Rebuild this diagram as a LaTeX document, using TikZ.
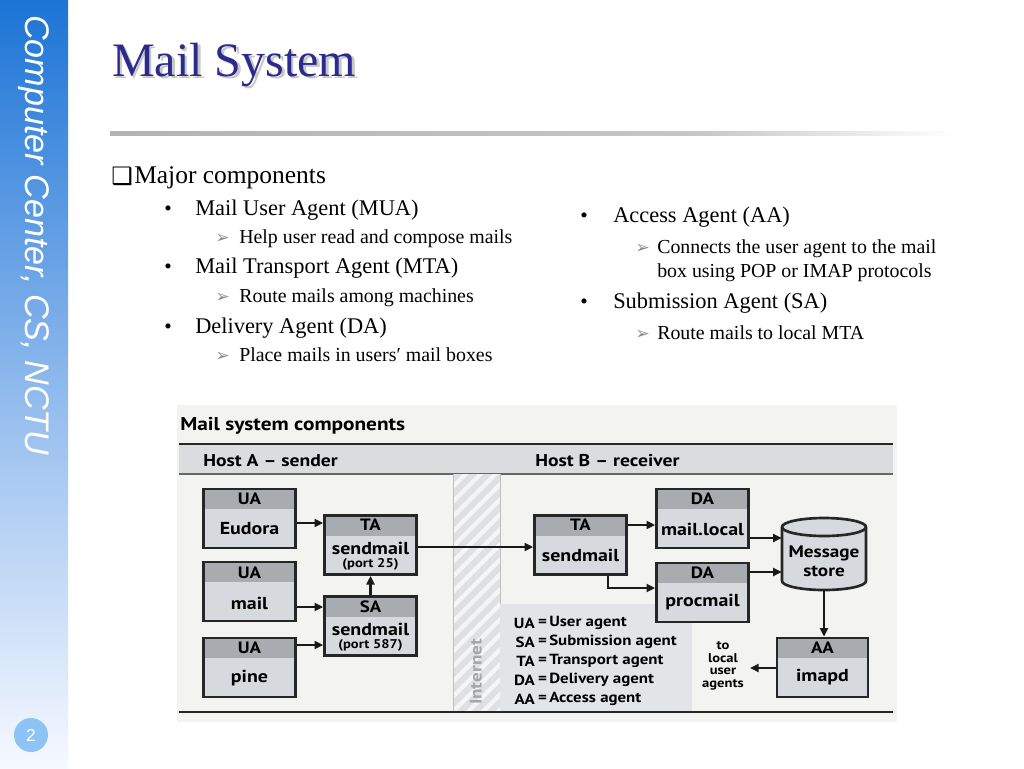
\documentclass[tikz,border=0pt]{standalone}
\usepackage{fontspec}
\setmainfont{Liberation Serif}
\newfontfamily\dfont[FakeStretch=1.15]{PT Sans}
\newfontfamily\sidef{Liberation Sans}
\newfontfamily\symf{DejaVu Sans}
\usetikzlibrary{arrows.meta}
\definecolor{titleblue}{RGB}{43,43,140}
\definecolor{sidetop}{RGB}{28,116,214}
\definecolor{sidemid}{RGB}{170,202,242}
\definecolor{sidebot}{RGB}{246,249,255}
\definecolor{pagecirc}{RGB}{142,196,245}
\definecolor{figbg}{RGB}{243,243,242}
\definecolor{bandgray}{RGB}{218,220,222}
\definecolor{boxbody}{RGB}{214,218,222}
\definecolor{boxhead}{RGB}{168,172,176}
\definecolor{legendbg}{RGB}{226,228,231}
\definecolor{stripe}{RGB}{222,224,226}
\definecolor{subarrow}{RGB}{140,140,140}
\newcommand{\fsz}[1]{\fontsize{#1}{#1}\selectfont}
\begin{document}
\begin{tikzpicture}[x=0.75pt,y=-0.75pt,
  agent/.style={draw=black!85, line width=2pt, fill=boxbody, minimum width=69pt, minimum height=44.25pt, inner sep=0pt,
    path picture={\fill[boxhead] (path picture bounding box.north west) rectangle ([yshift=-15pt]path picture bounding box.north east);}},
  hdrtxt/.style={font=\dfont\bfseries\fsz{12.3}, inner sep=0pt},
  bodytxt/.style={font=\dfont\bfseries\fsz{13}, inner sep=0pt},
  porttxt/.style={font=\dfont\bfseries\fsz{9.5}, inner sep=0pt},
  legtxt/.style={font=\dfont\bfseries\fsz{11}, inner sep=0pt},
  arr/.style={line width=2.1pt, black!90, -{Triangle[length=6.5pt,width=6pt]}},
  itemtxt/.style={anchor=base west, inner sep=0pt, font=\fsz{16.8}},
  subtxt/.style={anchor=base west, inner sep=0pt, font=\fsz{14.9}},
  bul/.style={anchor=base west, inner sep=0pt, font=\fsz{16}},
  subarr/.style={anchor=base west, inner sep=0pt, font=\symf\fsz{13}, text=subarrow}]
\useasboundingbox (0,0) rectangle (1024,768);
\fill[white] (0,0) rectangle (1024,768);
% sidebar
\shade[top color=sidetop, bottom color=sidemid] (0,0) rectangle (68,480);
\shade[top color=sidemid, bottom color=sidebot] (0,480) rectangle (68,768);
\node[rotate=-90, anchor=base west, inner sep=0pt, font=\sidef\itshape\fsz{25.6}, text=white] (side) at (25,15) {Computer Center, CS, NCTU};
\node[circle, fill=pagecirc, minimum size=25.5pt, inner sep=0pt, font=\sidef\fsz{13}, text=white] (page) at (31,735) {2};
% title
\node[anchor=base west, inner sep=0pt, font=\fsz{36}, text=black!22] (titleshadow) at (114.5,78.5) {Mail System};
\node[anchor=base west, inner sep=0pt, font=\fsz{36}, text=titleblue] (title) at (112,76) {Mail System};
\shade[left color=black!30, right color=black!22] (110,131) rectangle (700,135);
\shade[left color=black!22, right color=white] (700,131) rectangle (955,135);
% bullets
\node[anchor=base west, inner sep=0pt, font=\symf\fsz{18}] (box) at (111,184) {❑};
\node[anchor=base west, inner sep=0pt, font=\fsz{19.1}] (major) at (134,183) {Major components};
\node[bul] (b1) at (164,215) {•};
\node[itemtxt] (i1) at (195,215) {Mail User Agent (MUA)};
\node[subarr] (a1) at (215,243) {➢};
\node[subtxt] (s1) at (239,243) {Help user read and compose mails};
\node[bul] (b2) at (164,273) {•};
\node[itemtxt] (i2) at (195,273) {Mail Transport Agent (MTA)};
\node[subarr] (a2) at (215,302) {➢};
\node[subtxt] (s2) at (239,302) {Route mails among machines};
\node[bul] (b3) at (164,333) {•};
\node[itemtxt] (i3) at (195,333) {Delivery Agent (DA)};
\node[subarr] (a3) at (215,361) {➢};
\node[subtxt] (s3) at (239,361) {Place mails in users′ mail boxes};
\node[bul] (b4) at (580,222) {•};
\node[itemtxt] (i4) at (613,222) {Access Agent (AA)};
\node[subarr] (a4) at (635,253) {➢};
\node[subtxt] (s4) at (657,253) {Connects the user agent to the mail};
\node[subtxt] (s4b) at (657,277) {box using POP or IMAP protocols};
\node[bul] (b5) at (580,308) {•};
\node[itemtxt] (i5) at (613,308) {Submission Agent (SA)};
\node[subarr] (a5) at (635,339) {➢};
\node[subtxt] (s5) at (657,339) {Route mails to local MTA};
% figure background
\fill[figbg] (177,405) rectangle (897,722);
\node[anchor=base west, inner sep=0pt, font=\dfont\bfseries\fsz{13.9}] (figtitle) at (180,430) {Mail system components};
\fill[bandgray] (179,444) rectangle (893,474);
\draw[line width=1.4pt, black!85] (179,444) -- (893,444);
\draw[line width=0.8pt, black!60] (179,474) -- (893,474);
\node[anchor=base west, inner sep=0pt, font=\dfont\bfseries\fsz{12.8}] (hosta) at (203,466) {Host A – sender};
\node[anchor=base west, inner sep=0pt, font=\dfont\bfseries\fsz{12.8}] (hostb) at (535,466) {Host B – receiver};
% internet band
\fill[white!96!black] (453,474) rectangle (500,712);
\begin{scope}
\clip (453,474) rectangle (500,712);
\foreach \k in {0,...,22} {
  \draw[stripe, line width=4.5pt] (443,474+\k*15) -- (510,474+\k*15-67);
}
\end{scope}
\draw[black!25, line width=0.5pt] (453,474) -- (453,712);
\draw[black!25, line width=0.5pt] (500,474) -- (500,712);
\node[rotate=90, inner sep=0pt, font=\dfont\bfseries\fsz{12.5}, text=black!35] (inet) at (476,672) {Internet};
% legend panel
\fill[legendbg] (500,604) rectangle (692,711);
\draw[line width=1.4pt, black!85] (179,712) -- (893,712);
% boxes
\node[agent] (eudora) at (249.5,518.5) {};
\node[agent] (mailua) at (249.5,591.5) {};
\node[agent] (pine) at (249.5,667.5) {};
\node[agent] (taA) at (370.5,545) {};
\node[agent] (sa) at (370.5,626) {};
\node[agent] (taB) at (580.5,545) {};
\node[agent] (mlocal) at (702.5,518.5) {};
\node[agent] (procmail) at (702.5,592.5) {};
\node[agent, minimum width=68.25pt] (aa) at (822.5,667.5) {};
% box labels
\node[hdrtxt] (eudorah) at (249.5,499) {UA};
\node[bodytxt] (eudorab) at (249.5,529) {Eudora};
\node[hdrtxt] (mailuah) at (249.5,573) {UA};
\node[bodytxt] (mailuab) at (249.5,603) {mail};
\node[hdrtxt] (pineh) at (249.5,648) {UA};
\node[bodytxt] (pineb) at (249.5,678) {pine};
\node[hdrtxt] (taAh) at (370.5,525) {TA};
\node[bodytxt] (taAb) at (370.5,548) {sendmail};
\node[porttxt] (taAp) at (370.5,564) {(port 25)};
\node[hdrtxt] (sah) at (370.5,607) {SA};
\node[bodytxt] (sab) at (370.5,629) {sendmail};
\node[porttxt] (sap) at (370.5,645) {(port 587)};
\node[hdrtxt] (taBh) at (580.5,525) {TA};
\node[bodytxt] (taBb) at (580.5,555) {sendmail};
\node[hdrtxt] (mlocalh) at (702.5,499) {DA};
\node[bodytxt] (mlocalb) at (702.5,529) {mail.local};
\node[hdrtxt] (procmailh) at (702.5,573) {DA};
\node[bodytxt] (procmailb) at (702.5,602) {procmail};
\node[hdrtxt] (aah) at (822.5,648) {AA};
\node[bodytxt] (aab) at (822.5,677) {imapd};
% message store cylinder
\node[minimum width=63pt, minimum height=54pt, inner sep=0pt] (msg) at (824,554) {};
\filldraw[fill=boxbody, draw=black!85, line width=2pt]
  (782,527) -- (782,581) arc[start angle=180, end angle=360, x radius=31.5pt, y radius=6.75pt]
  -- (866,527) arc[start angle=0, end angle=180, x radius=31.5pt, y radius=6.75pt] -- cycle;
\draw[black!85, line width=2pt] (782,527) arc[start angle=180, end angle=360, x radius=31.5pt, y radius=6.75pt];
\node[bodytxt, font=\dfont\bfseries\fsz{12.5}] (msgt1) at (824,553) {Message};
\node[bodytxt, font=\dfont\bfseries\fsz{12.5}] (msgt2) at (824,571) {store};
% legend
\foreach \ab/\txt/\yy [count=\n] in {UA/User agent/623, SA/Submission agent/642, TA/Transport agent/661, DA/Delivery agent/680, AA/Access agent/699} {
  \node[legtxt, anchor=east] (lega\n) at (535,\yy) {\ab};
  \node[legtxt] (lege\n) at (542.5,\yy) {=};
  \node[legtxt, anchor=west] (legt\n) at (549,\yy) {\txt};
}
\node[align=center, inner sep=0pt, font=\dfont\bfseries\fontsize{9.5}{9.5}\selectfont] (tolocal) at (723,666) {to\\local\\user\\agents};
% connectors
\draw[arr] (eudora.east |- 0,523) -- (taA.west |- 0,523);
\draw[arr] (mailua.east |- 0,607) -- (sa.west |- 0,607);
\draw[arr] (pine.east |- 0,645) -- (sa.west |- 0,645);
\draw[arr] (sa.north) -- (taA.south);
\draw[arr] (taA.east |- 0,547) -- (taB.west |- 0,547);
\draw[arr] (taB.east |- 0,525) -- (mlocal.west |- 0,525);
\draw[arr] (taB.south -| 608,0) |- (procmail.west |- 0,588);
\draw[arr] (mlocal.east |- 0,538) -- (msg.west |- 0,538);
\draw[arr] (procmail.east |- 0,572) -- (msg.west |- 0,572);
\draw[arr] (msg.south) -- (aa.north -| msg.south);
\draw[arr] (aa.west |- 0,668) -- (750,668) coordinate (tlend);
\end{tikzpicture}
\end{document}
